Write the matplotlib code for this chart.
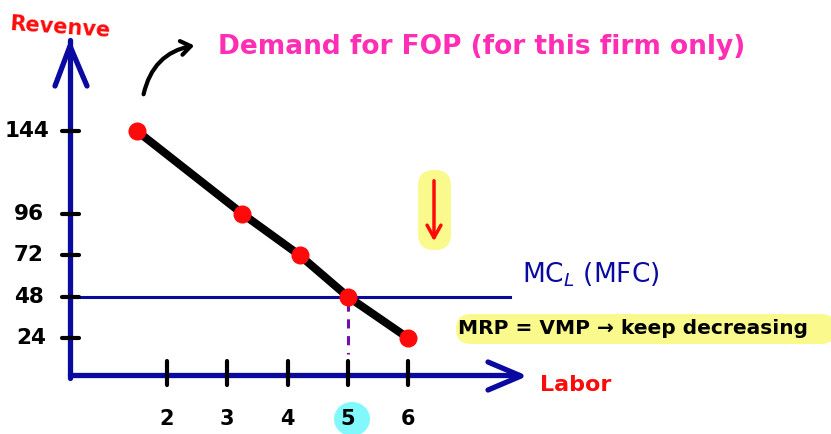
import matplotlib
matplotlib.use("Agg")
import matplotlib.pyplot as plt
from matplotlib.transforms import Affine2D
from matplotlib.patches import FancyBboxPatch, FancyArrowPatch, Ellipse

# ---- data ----
labor = [1.5, 3.25, 4.2, 5, 6]
mrp = [144, 96, 72, 48, 24]
mfc = 48
eq_labor = 5
x_ticks = [2, 3, 4, 5, 6]
y_ticks = [144, 96, 72, 48, 24]

W, H = 831, 434
fig = plt.figure(figsize=(W / 100, H / 100), dpi=100)
ax = fig.add_axes([0, 0, 1, 1])
ax.set_xlim(-0.772, 13.02)
ax.set_ylim(-31.65, 219.9)
ax.axis("off")

# pixel transform (top-left origin)
PX = Affine2D().scale(1 / W, -1 / H).translate(0, 1) + fig.transFigure

BLUE = "#0a0aa0"
RED = "#ff0a0a"
PINK = "#ff2eb4"
YEL = "#fafa8c"

x0, y0 = 0.39, 2.5  # axis origin in data units

# highlights
ax.add_patch(FancyBboxPatch((456, 314), 380, 30, boxstyle="round,pad=0,rounding_size=15",
                            transform=PX, fc=YEL, ec="none", zorder=0))
ax.add_patch(FancyBboxPatch((418, 170), 33, 80, boxstyle="round,pad=0,rounding_size=16",
                            transform=PX, fc=YEL, ec="none", zorder=0))
ax.add_patch(Ellipse((352, 419), 36, 34, transform=PX, fc="#80f8fc", ec="none", zorder=0))

# axes lines
ax.plot([x0, x0], [y0 - 1.5, 197], color=BLUE, lw=3.8, solid_capstyle="round", zorder=2)
ax.plot([x0, 7.85], [y0, y0], color=BLUE, lw=3.8, solid_capstyle="round", zorder=2)
# arrow heads (chevrons)
ax.plot([55, 70, 87], [86, 46, 86], color=BLUE, lw=3.8, solid_capstyle="round",
        solid_joinstyle="round", transform=PX, zorder=2)
ax.plot([488, 521, 488], [362, 376, 390], color=BLUE, lw=3.8, solid_capstyle="round",
        solid_joinstyle="round", transform=PX, zorder=2)

# MFC line
ax.plot([0.5, 7.7], [mfc, mfc], color=BLUE, lw=2.2, zorder=3)

# ticks
for v in y_ticks:
    ax.plot([x0 - 0.13, x0 + 0.15], [v, v], color="black", lw=3, solid_capstyle="round", zorder=3)
for v in x_ticks:
    ax.plot([v, v], [y0 + 8, y0 - 6], color="black", lw=3, solid_capstyle="round", zorder=3)

# tick labels
for v in y_ticks:
    xpos = 0.04 if v == 144 else (0.0 if v == 24 else -0.05)
    ax.text(xpos, v, str(v), ha="right", va="center",
            fontsize=15.5, fontweight="bold", color="black")
for v in x_ticks:
    ax.text(v, -23, str(v), ha="center", va="center", fontsize=15, fontweight="bold", color="black")

# equilibrium dashed line
ax.plot([eq_labor, eq_labor], [mfc - 3, 15], color="#7010b0", lw=2.2, ls=(0, (3, 2.5)), zorder=3)

# demand curve
ax.plot(labor, mrp, color="black", lw=5.8, solid_capstyle="round", zorder=4)
ax.plot(labor, mrp, ls="none", marker="o", ms=12, color=RED, zorder=5)

# texts
ax.text(60, 28, "Revenve", transform=PX, color=RED, fontsize=15, fontweight="bold",
        ha="center", va="center", rotation=-4)
ax.text(218, 47, "Demand for FOP (for this firm only)", transform=PX, color=PINK,
        fontsize=19, fontweight="bold", ha="left", va="center")
ax.text(522, 275, r"MC$_L$ (MFC)", transform=PX, color=BLUE, fontsize=19,
        ha="left", va="center")
ax.text(458, 328, "MRP = VMP → keep decreasing", transform=PX, color="black", fontsize=14.5,
        ha="left", va="center", fontweight="bold")
ax.text(540, 385, "Labor", transform=PX, color=RED, fontsize=16, fontweight="bold",
        ha="left", va="center")

# curved annotation arrow
ax.add_patch(FancyArrowPatch((143, 97), (197, 45), transform=PX, connectionstyle="arc3,rad=-0.35",
                             arrowstyle="->,head_length=7,head_width=5", color="black", lw=3))
# red down arrow
ax.add_patch(FancyArrowPatch((434, 178), (434, 244), transform=PX,
                             arrowstyle="->,head_length=9,head_width=5", color=RED, lw=2.5))

fig.savefig("out.png", dpi=100)
